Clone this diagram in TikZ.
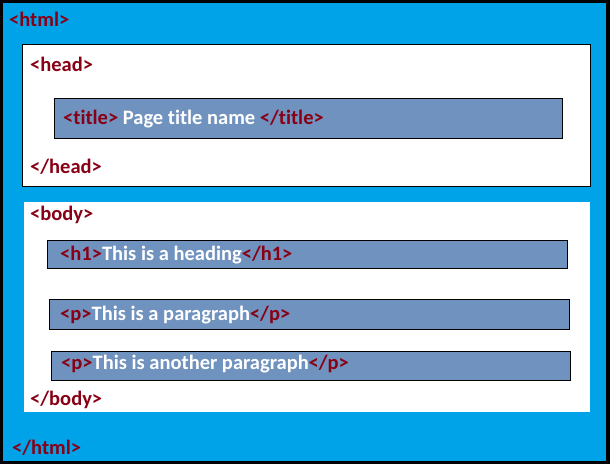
\documentclass[tikz,border=0pt]{standalone}
\usepackage{fontspec}
\setmainfont[RawFeature=-liga]{Carlito}
\definecolor{pageblue}{RGB}{0,162,232}
\definecolor{boxgray}{RGB}{112,146,190}
\definecolor{tagred}{RGB}{136,0,21}
\newcommand{\tx}[1]{\textcolor{white}{#1}}

\begin{document}
\begin{tikzpicture}[x=1pt,y=-1pt,
	tagtext/.style={anchor=west, inner sep=0pt, font=\bfseries\fontsize{20.5}{22}\selectfont, text=tagred},
	elembox/.style={fill=boxgray, draw=black, line width=1pt}]
	\useasboundingbox (0,0) rectangle (610,464);
	\fill[black] (0,0) rectangle (610,464);
	\fill[pageblue] (3,3) rectangle (606,461);
	% head
	\filldraw[fill=white, draw=black, line width=1pt] (22,44) rectangle (590,186);
	\filldraw[elembox] (54,98) rectangle (562,138);
	% body
	\fill[white] (24,202) rectangle (590,412);
	\filldraw[elembox] (47,240) rectangle (567,268);
	\filldraw[elembox] (49,299) rectangle (569,329);
	\filldraw[elembox] (51,351) rectangle (570,380);
	\node[tagtext] (htmlopen) at (9,19) {<html>};
	\node[tagtext] (headopen) at (30,64) {<head>};
	\node[tagtext] (title) at (63,119) {<title> \tx{Page title name} </title>};
	\node[tagtext] (headclose) at (30,167) {</head>};
	\node[tagtext] (bodyopen) at (30,215) {<body>};
	\node[tagtext] (heading) at (60,255) {<h1>\tx{This is a heading}</h1>};
	\node[tagtext] (para) at (60,315) {<p>\tx{This is a paragraph}</p>};
	\node[tagtext] (parb) at (61,364) {<p>\tx{This is another paragraph}</p>};
	\node[tagtext] (bodyclose) at (30,400) {</body>};
	\node[tagtext] (htmlclose) at (12,448) {</html>};
\end{tikzpicture}
\end{document}
